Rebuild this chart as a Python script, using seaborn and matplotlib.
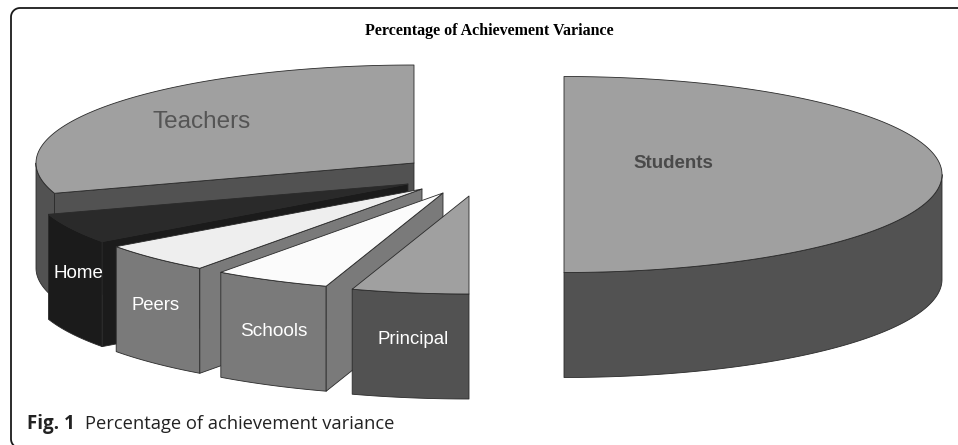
import numpy as np
import matplotlib
matplotlib.use('Agg')
import matplotlib.pyplot as plt
import seaborn as sns

# data
labels = ['Teachers', 'Home', 'Peers', 'Schools', 'Principal', 'Students']
shares = [30, 5, 5, 5, 5, 50]

# exploded centre of each slice, in pixels
centers_x = [414, 408, 422, 443, 469, 564]
centers_y = [163, 184, 189, 193, 196, 174.5]

# colours: top face, side face
top_colors = ['#a0a0a0', '#2a2a2a', '#eeeeee', '#fbfbfb', '#a0a0a0', '#a0a0a0']
side_colors = ['#525252', '#1b1b1b', '#7a7a7a', '#7a7a7a', '#525252', '#525252']

# label settings
label_x = [202, 78, 156, 274, 413, 673]
label_y = [122, 274, 305, 331, 339, 163]
label_colors = ['#555555', 'white', 'white', 'white', 'white', '#4a4a4a']
label_sizes = [17.5, 13.5, 13.3, 13.7, 13.4, 13.5]

RX, RY, DEPTH = 378, 98, 105
START = 90

sns.set_theme(style='white')
plt.rcParams['font.family'] = ['Liberation Sans', 'DejaVu Sans']

fig, ax = plt.subplots(figsize=(9.58, 4.45), dpi=100)
ax.set_position([0, 0, 1, 1])
ax.set_xlim(0, 958)
ax.set_ylim(445, 0)
ax.axis('off')


def rim(cx, cy, t0, t1, drop=0):
    t = np.radians(np.linspace(t0, t1, 120))
    return cx + RX * np.cos(t), cy - RY * np.sin(t) + drop


# turn shares into angles
ends = START + np.cumsum(shares) * 3.6
starts = np.r_[START, ends[:-1]]

line = dict(edgecolor='#2a2a2a', linewidth=0.6, joinstyle='round')

for i in range(len(labels)):
    cx, cy = centers_x[i], centers_y[i]
    t0, t1 = starts[i], ends[i]

    # outer wall, only the part facing the viewer
    a0, a1 = max(t0, 180), min(t1, 360)
    if a1 > a0:
        x, y = rim(cx, cy, a0, a1)
        x2, y2 = rim(cx, cy, a0, a1, DEPTH)
        ax.fill(np.r_[x, x2[::-1]], np.r_[y, y2[::-1]], color=side_colors[i], **line)

    # cut wall on the right hand side of the slice
    if 180 < t1 < 270:
        x, y = rim(cx, cy, t1, t1 + 0.01)
        ax.fill([x[0], cx, cx, x[0]], [y[0], cy, cy + DEPTH, y[0] + DEPTH],
                color=side_colors[i], **line)

    # top face
    x, y = rim(cx, cy, t0, t1)
    ax.fill(np.r_[cx, x], np.r_[cy, y], color=top_colors[i], **line)

    ax.text(label_x[i], label_y[i], labels[i], ha='center', va='center',
            color=label_colors[i], fontsize=label_sizes[i],
            fontweight='bold' if labels[i] == 'Students' else 'normal')

ax.text(489, 31, 'Percentage of Achievement Variance', ha='center', va='center',
        family=['Liberation Serif'], fontweight='bold', fontsize=11.5, color='black')

# caption
ax.text(27, 424, 'Fig. 1', ha='left', va='center', family=['Open Sans'],
        fontweight='bold', fontsize=13.5, color='#222222')
ax.text(85, 424, 'Percentage of achievement variance', ha='left', va='center',
        family=['Open Sans'], fontsize=13.2, color='#222222')

# frame, open on the right and at the bottom
r = 9
arc = np.radians(np.linspace(0, 90, 20))
frame_x = np.r_[20 - r * np.sin(arc), 20 - r * np.cos(arc), 958]
frame_y = np.r_[439 + r * np.cos(arc), 17 - r * np.sin(arc), 8]
ax.plot(frame_x, frame_y, color='#1a1a1a', linewidth=1.3)

fig.savefig('out.png', dpi=100, facecolor='white')
